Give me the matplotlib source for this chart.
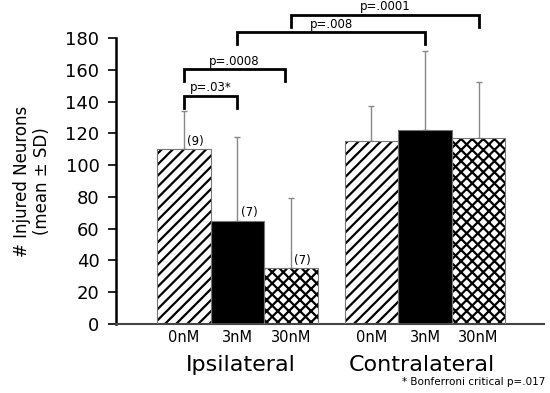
import matplotlib
matplotlib.use('Agg')
import matplotlib.pyplot as plt
import numpy as np

# data
conc = ['0nM', '3nM', '30nM']
groups = ['Ipsilateral', 'Contralateral']
ipsi_mean = [110, 65, 35]
ipsi_sd = [24, 53, 44]
contra_mean = [115, 122, 117]
contra_sd = [22, 50, 35]
ipsi_n = ['(9)', '(7)', '(7)']

# brackets: left x, right x, height, label (x in bar positions)
br_left = [0, 0, 1, 2]
br_right = [1, 1.88, 4.5, 5.5]
br_height = [143.7, 160.3, 183.6, 194.5]
br_label = ['p=.03*', 'p=.0008', 'p=.008', 'p=.0001']

plt.rcParams['hatch.linewidth'] = 1.6

fig = plt.figure(figsize=(5.5, 3.93), dpi=100)
ax = fig.add_axes([0.211, 0.1756, 0.778, 0.7277])

pos = np.array([0, 1, 2, 3.5, 4.5, 5.5])
means = ipsi_mean + contra_mean
sds = ipsi_sd + contra_sd
hatches = ['///', None, 'xxx'] * 2
faces = ['white', 'black', 'white'] * 2

for x, m, h, fc in zip(pos, means, hatches, faces):
    ax.bar(x, m, width=1, color=fc, hatch=h, edgecolor='black', linewidth=0, zorder=2)
    ax.bar(x, m, width=1, fill=False, edgecolor='#777777', linewidth=0.8, zorder=3)

ax.errorbar(pos, means, yerr=[np.zeros(6), sds], fmt='none', ecolor='#888888',
            elinewidth=1, capsize=2.5, capthick=1, zorder=1)

for x, m, t in zip(pos[:3], ipsi_mean, ipsi_n):
    ax.text(x + 0.22, m + 1, t, ha='center', va='bottom', fontsize=8.5)

# significance brackets
leg = 7.5
for l, r, h, t in zip(br_left, br_right, br_height, br_label):
    ax.plot([l, l, r, r], [h - leg, h, h, h - leg], color='black', lw=2,
            clip_on=False, solid_joinstyle='miter')
    ax.text((l + r) / 2, h + 1, t, ha='center', va='bottom', fontsize=8.5,
            clip_on=False)

ax.set_xlim(-1.265, 6.72)
ax.set_ylim(0, 180)
ax.set_yticks(range(0, 181, 20))
ax.tick_params(axis='y', direction='out', length=6, width=1.2, pad=6, labelsize=13)

ax.set_xticks(pos)
ax.set_xticklabels(conc * 2, fontsize=10.5)
ax.tick_params(axis='x', length=0, pad=4)
ax.set_xticks([1, 4.5], minor=True)
ax.tick_params(axis='x', which='minor', length=3, width=1, color='#555555')

for s in ['top', 'right']:
    ax.spines[s].set_visible(False)
ax.spines['left'].set_linewidth(1.8)
ax.spines['bottom'].set_linewidth(1.5)
ax.spines['bottom'].set_color('#444444')

for x, g in zip([1.07, 4.44], groups):
    ax.text(x, -0.143, g, transform=ax.get_xaxis_transform(), ha='center',
            va='center', fontsize=16)

fig.text(32 / 550, 1 - 181 / 393, '# Injured Neurons\n(mean \u00b1 SD)', rotation=90,
         ha='center', va='center', fontsize=12, multialignment='center')
fig.text(545 / 550, 1 - 382 / 393, '* Bonferroni critical p=.017', ha='right',
         va='center', fontsize=7.5)

fig.savefig('out.png', dpi=100)
